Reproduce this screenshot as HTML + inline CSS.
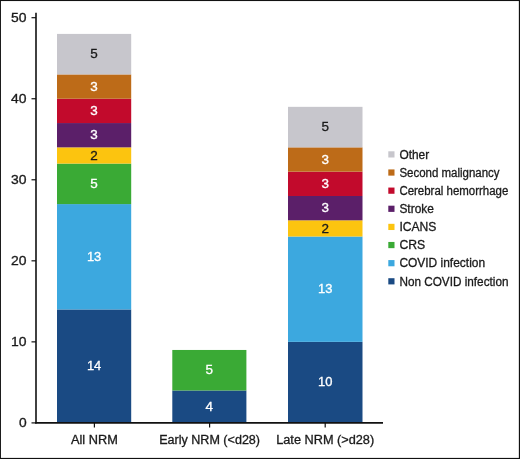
<!DOCTYPE html>
<html><head><meta charset="utf-8"><title>NRM causes</title>
<style>
html,body{margin:0;padding:0;background:#fff;}
svg{display:block;will-change:transform;opacity:0.9999;}
text{font-family:"Liberation Sans",Arial,Helvetica,sans-serif;font-size:12px;fill:#1a1a1a;stroke:#1a1a1a;stroke-width:0.3px;}
</style></head><body>
<svg width="520" height="459" viewBox="0 0 520 459">
<rect x="0" y="0" width="520" height="459" fill="#fff"/>
<rect x="0" y="0" width="520" height="1.05" fill="#111"/>
<rect x="0" y="0" width="0.95" height="459" fill="#111"/>
<rect x="518.85" y="0" width="1.15" height="459" fill="#111"/>
<rect x="0" y="457.9" width="520" height="1.1" fill="#111"/>

<rect x="57" y="309.44" width="74.20" height="113.46" fill="#1a4a83"/>
<text x="94.10" y="370.27" text-anchor="middle" textLength="14.4" lengthAdjust="spacingAndGlyphs" style="fill:#fff;stroke:#fff">14</text>
<rect x="57" y="204.09" width="74.20" height="105.35" fill="#3ca8df"/>
<text x="94.10" y="260.87" text-anchor="middle" textLength="14.4" lengthAdjust="spacingAndGlyphs" style="fill:#fff;stroke:#fff">13</text>
<rect x="57" y="163.57" width="74.20" height="40.52" fill="#3aaa35"/>
<text x="94.10" y="187.93" text-anchor="middle" textLength="7.5" lengthAdjust="spacingAndGlyphs" style="fill:#fff;stroke:#fff">5</text>
<rect x="57" y="147.36" width="74.20" height="16.21" fill="#fcc40f"/>
<text x="94.10" y="159.57" text-anchor="middle" textLength="7.5" lengthAdjust="spacingAndGlyphs" style="fill:#1a1a1a;stroke:#1a1a1a">2</text>
<rect x="57" y="123.05" width="74.20" height="24.31" fill="#5b1f69"/>
<text x="94.10" y="139.31" text-anchor="middle" textLength="7.5" lengthAdjust="spacingAndGlyphs" style="fill:#fff;stroke:#fff">3</text>
<rect x="57" y="98.74" width="74.20" height="24.31" fill="#c20a2c"/>
<text x="94.10" y="115.00" text-anchor="middle" textLength="7.5" lengthAdjust="spacingAndGlyphs" style="fill:#fff;stroke:#fff">3</text>
<rect x="57" y="74.43" width="74.20" height="24.31" fill="#bd6b18"/>
<text x="94.10" y="90.68" text-anchor="middle" textLength="7.5" lengthAdjust="spacingAndGlyphs" style="fill:#fff;stroke:#fff">3</text>
<rect x="57" y="33.91" width="74.20" height="40.52" fill="#c7c6cc"/>
<text x="94.10" y="58.27" text-anchor="middle" textLength="7.5" lengthAdjust="spacingAndGlyphs" style="fill:#1a1a1a;stroke:#1a1a1a">5</text>
<rect x="172.3" y="390.48" width="74.10" height="32.42" fill="#1a4a83"/>
<text x="209.35" y="410.79" text-anchor="middle" textLength="7.5" lengthAdjust="spacingAndGlyphs" style="fill:#fff;stroke:#fff">4</text>
<rect x="172.3" y="349.96" width="74.10" height="40.52" fill="#3aaa35"/>
<text x="209.35" y="374.32" text-anchor="middle" textLength="7.5" lengthAdjust="spacingAndGlyphs" style="fill:#fff;stroke:#fff">5</text>
<rect x="288" y="341.86" width="74.50" height="81.04" fill="#1a4a83"/>
<text x="325.25" y="386.48" text-anchor="middle" textLength="14.4" lengthAdjust="spacingAndGlyphs" style="fill:#fff;stroke:#fff">10</text>
<rect x="288" y="236.51" width="74.50" height="105.35" fill="#3ca8df"/>
<text x="325.25" y="293.28" text-anchor="middle" textLength="14.4" lengthAdjust="spacingAndGlyphs" style="fill:#fff;stroke:#fff">13</text>
<rect x="288" y="220.30" width="74.50" height="16.21" fill="#fcc40f"/>
<text x="325.25" y="232.50" text-anchor="middle" textLength="7.5" lengthAdjust="spacingAndGlyphs" style="fill:#1a1a1a;stroke:#1a1a1a">2</text>
<rect x="288" y="195.99" width="74.50" height="24.31" fill="#5b1f69"/>
<text x="325.25" y="212.24" text-anchor="middle" textLength="7.5" lengthAdjust="spacingAndGlyphs" style="fill:#fff;stroke:#fff">3</text>
<rect x="288" y="171.68" width="74.50" height="24.31" fill="#c20a2c"/>
<text x="325.25" y="187.93" text-anchor="middle" textLength="7.5" lengthAdjust="spacingAndGlyphs" style="fill:#fff;stroke:#fff">3</text>
<rect x="288" y="147.36" width="74.50" height="24.31" fill="#bd6b18"/>
<text x="325.25" y="163.62" text-anchor="middle" textLength="7.5" lengthAdjust="spacingAndGlyphs" style="fill:#fff;stroke:#fff">3</text>
<rect x="288" y="106.84" width="74.50" height="40.52" fill="#c7c6cc"/>
<text x="325.25" y="131.20" text-anchor="middle" textLength="7.5" lengthAdjust="spacingAndGlyphs" style="fill:#1a1a1a;stroke:#1a1a1a">5</text>
<line x1="36.0" y1="12.7" x2="36.0" y2="423.59999999999997" stroke="#111" stroke-width="1.6"/>
<line x1="35.2" y1="422.9" x2="383" y2="422.9" stroke="#111" stroke-width="1.6"/>
<line x1="31.5" y1="422.90" x2="36.0" y2="422.90" stroke="#111" stroke-width="1.2"/>
<text x="26.6" y="427.30" text-anchor="end" textLength="7.7" lengthAdjust="spacingAndGlyphs">0</text>
<line x1="31.5" y1="341.86" x2="36.0" y2="341.86" stroke="#111" stroke-width="1.2"/>
<text x="26.6" y="346.26" text-anchor="end" textLength="15.5" lengthAdjust="spacingAndGlyphs">10</text>
<line x1="31.5" y1="260.82" x2="36.0" y2="260.82" stroke="#111" stroke-width="1.2"/>
<text x="26.6" y="265.22" text-anchor="end" textLength="15.5" lengthAdjust="spacingAndGlyphs">20</text>
<line x1="31.5" y1="179.78" x2="36.0" y2="179.78" stroke="#111" stroke-width="1.2"/>
<text x="26.6" y="184.18" text-anchor="end" textLength="15.5" lengthAdjust="spacingAndGlyphs">30</text>
<line x1="31.5" y1="98.74" x2="36.0" y2="98.74" stroke="#111" stroke-width="1.2"/>
<text x="26.6" y="103.14" text-anchor="end" textLength="15.5" lengthAdjust="spacingAndGlyphs">40</text>
<line x1="31.5" y1="17.70" x2="36.0" y2="17.70" stroke="#111" stroke-width="1.2"/>
<text x="26.6" y="22.10" text-anchor="end" textLength="15.5" lengthAdjust="spacingAndGlyphs">50</text>
<line x1="94.4" y1="422.9" x2="94.4" y2="427.4" stroke="#111" stroke-width="1.2"/>
<text x="94.4" y="444.2" text-anchor="middle" textLength="46.8" lengthAdjust="spacingAndGlyphs">All NRM</text>
<line x1="209.6" y1="422.9" x2="209.6" y2="427.4" stroke="#111" stroke-width="1.2"/>
<text x="209.6" y="444.2" text-anchor="middle" textLength="100.9" lengthAdjust="spacingAndGlyphs">Early NRM (&lt;d28)</text>
<line x1="325.2" y1="422.9" x2="325.2" y2="427.4" stroke="#111" stroke-width="1.2"/>
<text x="325.2" y="444.2" text-anchor="middle" textLength="98" lengthAdjust="spacingAndGlyphs">Late NRM (&gt;d28)</text>
<rect x="388.3" y="151.30" width="6.2" height="6.2" fill="#c7c6cc"/>
<text x="399.4" y="158.70" textLength="29.75" lengthAdjust="spacingAndGlyphs">Other</text>
<rect x="388.3" y="169.43" width="6.2" height="6.2" fill="#bd6b18"/>
<text x="399.4" y="176.83" textLength="100.2" lengthAdjust="spacingAndGlyphs">Second malignancy</text>
<rect x="388.3" y="187.56" width="6.2" height="6.2" fill="#c20a2c"/>
<text x="399.4" y="194.96" textLength="108.9" lengthAdjust="spacingAndGlyphs">Cerebral hemorrhage</text>
<rect x="388.3" y="205.69" width="6.2" height="6.2" fill="#5b1f69"/>
<text x="399.4" y="213.09" textLength="34.5" lengthAdjust="spacingAndGlyphs">Stroke</text>
<rect x="388.3" y="223.82" width="6.2" height="6.2" fill="#fcc40f"/>
<text x="399.4" y="231.22" textLength="37" lengthAdjust="spacingAndGlyphs">ICANS</text>
<rect x="388.3" y="241.95" width="6.2" height="6.2" fill="#3aaa35"/>
<text x="399.4" y="249.35" textLength="25.8" lengthAdjust="spacingAndGlyphs">CRS</text>
<rect x="388.3" y="260.08" width="6.2" height="6.2" fill="#3ca8df"/>
<text x="399.4" y="267.48" textLength="85.7" lengthAdjust="spacingAndGlyphs">COVID infection</text>
<rect x="388.3" y="278.21" width="6.2" height="6.2" fill="#1a4a83"/>
<text x="399.4" y="285.61" textLength="109.1" lengthAdjust="spacingAndGlyphs">Non COVID infection</text>
</svg></body></html>
